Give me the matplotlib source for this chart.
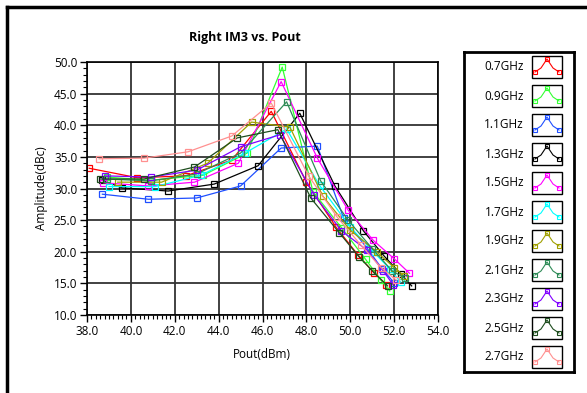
import numpy as np
import matplotlib
matplotlib.use('Agg')
import matplotlib.pyplot as plt
from matplotlib.patches import Rectangle
from matplotlib.lines import Line2D
from matplotlib.ticker import MultipleLocator, FormatStrFormatter

plt.rcParams['font.family'] = ['Open Sans', 'DejaVu Sans']

# Series data (Pout in dBm, IM3 in dBc)
labels = ['0.7GHz', '0.9GHz', '1.1GHz', '1.3GHz', '1.5GHz', '1.7GHz',
          '1.9GHz', '2.1GHz', '2.3GHz', '2.5GHz', '2.7GHz']
colors = ['#FF0000', '#33FF33', '#1F4FFF', '#000000', '#FF00FF', '#00FFFF',
          '#A0A000', '#2E8B57', '#8000FF', '#1E4D1E', '#FF9090']

x_07 = [38.1, 40.3, 42.5, 44.6, 46.4, 48.0, 49.35, 50.35, 51.1, 51.65]
y_07 = [33.2, 31.7, 32.0, 34.5, 42.2, 31.0, 23.9, 19.5, 16.6, 14.8]
x_09 = [38.9, 40.9, 43.3, 45.3, 46.9, 48.3, 49.6, 50.7, 51.4, 51.8]
y_09 = [31.8, 31.3, 32.1, 35.6, 49.2, 29.5, 23.8, 18.8, 15.5, 13.8]
x_11 = [38.7, 40.8, 43.0, 45.0, 46.85, 48.5, 49.7, 50.8, 51.45, 52.0]
y_11 = [29.1, 28.3, 28.5, 30.4, 36.4, 36.7, 25.3, 20.4, 17.3, 15.1]
x_13 = [38.7, 39.6, 41.7, 43.8, 45.8, 47.7, 49.3, 50.6, 51.55, 52.3, 52.8]
y_13 = [31.3, 30.1, 29.6, 30.7, 33.6, 41.9, 30.4, 23.3, 19.3, 16.5, 14.6]
x_15 = [38.75, 40.8, 42.9, 44.9, 46.85, 48.5, 49.9, 51.05, 52.0, 52.7]
y_15 = [30.9, 30.4, 31.0, 34.0, 46.9, 34.8, 26.6, 21.8, 18.9, 16.6]
x_17 = [39.0, 41.1, 43.2, 45.2, 47.1, 48.6, 50.0, 51.05, 51.8, 52.3]
y_17 = [30.3, 30.3, 32.1, 35.6, 39.4, 30.5, 23.9, 20.0, 17.3, 15.2]
x_19 = [39.4, 41.4, 43.5, 45.5, 47.25, 48.75, 50.0, 51.2, 52.0, 52.45]
y_19 = [31.0, 31.0, 34.0, 40.5, 39.7, 28.8, 23.4, 20.0, 17.5, 16.2]
x_21 = [38.9, 40.9, 43.0, 45.0, 47.1, 48.65, 49.9, 51.0, 51.9, 52.5]
y_21 = [31.5, 31.2, 32.3, 35.6, 43.7, 31.2, 25.0, 20.5, 17.0, 15.8]
x_23 = [38.8, 40.9, 43.0, 45.0, 46.8, 48.35, 49.6, 50.75, 51.5, 51.95]
y_23 = [32.0, 31.8, 32.9, 36.6, 38.5, 29.0, 23.3, 20.3, 17.0, 14.8]
x_25 = [38.6, 40.6, 42.9, 44.85, 46.7, 48.2, 49.5, 50.4, 51.0, 51.7]
y_25 = [31.5, 31.5, 33.4, 38.0, 39.3, 28.5, 23.0, 19.2, 17.0, 14.6]
x_27 = [38.55, 40.6, 42.6, 44.6, 46.4, 48.1, 49.4, 50.5, 51.4, 52.1]
y_27 = [34.7, 34.8, 35.8, 38.3, 43.5, 32.0, 25.5, 21.0, 17.5, 15.5]

xs = [x_07, x_09, x_11, x_13, x_15, x_17, x_19, x_21, x_23, x_25, x_27]
ys = [y_07, y_09, y_11, y_13, y_15, y_17, y_19, y_21, y_23, y_25, y_27]

W, H = 587, 393
fig = plt.figure(figsize=(W / 100, H / 100), dpi=100)

# Outer frame (top and left edges visible)
fig.add_artist(Line2D([7 / W, 7 / W], [0, 1 - 7 / H], color='black', lw=2.5))
fig.add_artist(Line2D([7 / W, 1], [1 - 7 / H, 1 - 7 / H], color='black', lw=2.5))

# Main plot
ax = fig.add_axes([87 / W, 1 - 315 / H, (438 - 87) / W, (315 - 62) / H])
for x, y, c in zip(xs, ys, colors):
    ax.plot(x, y, color=c, lw=0.9, marker='s', markersize=4.5,
            markerfacecolor='none', markeredgewidth=0.9)

ax.set_xlim(38, 54)
ax.set_ylim(10, 50)
ax.xaxis.set_major_locator(MultipleLocator(2))
ax.xaxis.set_minor_locator(MultipleLocator(0.2))
ax.yaxis.set_major_locator(MultipleLocator(5))
ax.yaxis.set_minor_locator(MultipleLocator(1))
ax.xaxis.set_major_formatter(FormatStrFormatter('%.1f'))
ax.yaxis.set_major_formatter(FormatStrFormatter('%.1f'))
ax.tick_params(which='major', length=5, width=1, labelsize=8.5, pad=2)
ax.tick_params(which='minor', length=3, width=0.8)
ax.grid(True, which='major', color='#333333', lw=1.3)
ax.set_axisbelow(True)
for s in ax.spines.values():
    s.set_linewidth(1.2)

fig.text(245 / W, 1 - 38 / H, 'Right IM3 vs. Pout', ha='center', va='center',
         fontsize=9, fontweight='bold')
fig.text(262 / W, 1 - 354 / H, 'Pout(dBm)', ha='center', va='center', fontsize=8.5)
fig.text(42 / W, 1 - 188 / H, 'Amplitude(dBc)', ha='center', va='center',
         fontsize=8.5, rotation=90)

# Legend box with small plot icons
lg = fig.add_axes([464 / W, 1 - 372 / H, (574 - 464) / W, (372 - 52) / H])
lg.set_xlim(0, 110)
lg.set_ylim(320, 0)
lg.set_xticks([])
lg.set_yticks([])
for s in lg.spines.values():
    s.set_linewidth(2)

icon_x = np.array([3, 9, 15, 21, 27])
icon_y = np.array([16, 12, 3, 12, 16])
for i, (lab, c) in enumerate(zip(labels, colors)):
    yc = 15 + i * 29
    lg.text(60, yc, lab, ha='right', va='center', fontsize=8.5)
    lg.add_patch(Rectangle((68, yc - 11), 30, 22, fill=False, ec='black', lw=1))
    px = 68 + icon_x
    py = yc - 11 + icon_y
    lg.plot(px, py, color=c, lw=0.8)
    lg.plot(px[[0, 2, 4]], py[[0, 2, 4]], ls='none', marker='s', markersize=3,
            markerfacecolor='none', markeredgecolor=c, markeredgewidth=0.8)

fig.savefig('out.png', dpi=100)
